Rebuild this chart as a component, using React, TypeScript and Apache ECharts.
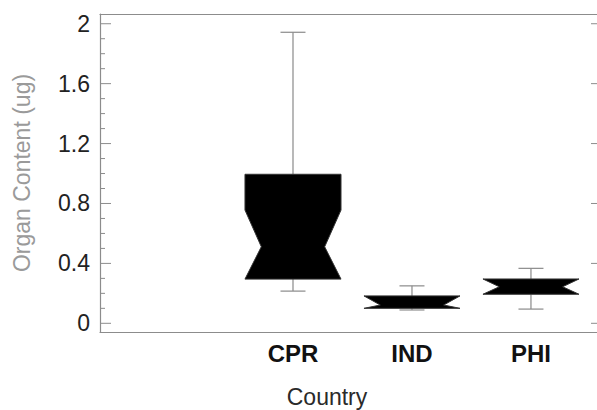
import React, { useEffect, useRef } from "react";
import * as echarts from "echarts";

// Notched box plot of organ content by country
const countries = ["CPR", "IND", "PHI"];
const whiskerLow = [0.215, 0.089, 0.095];
const quartile1 = [0.295, 0.1, 0.194];
const medians = [0.511, 0.122, 0.244];
const quartile3 = [0.995, 0.183, 0.296];
const whiskerHigh = [1.943, 0.25, 0.367];
const notchLow = [0.295, 0.1, 0.194];
const notchHigh = [0.756, 0.183, 0.296];

const majorTicks = [0, 0.4, 0.8, 1.2, 1.6, 2];
const tenthTicks = [
  0, 0.1, 0.2, 0.3, 0.4, 0.5, 0.6, 0.7, 0.8, 0.9, 1.0,
  1.1, 1.2, 1.3, 1.4, 1.5, 1.6, 1.7, 1.8, 1.9, 2,
];

const FONT = 'Arial, "Liberation Sans", sans-serif';
const GRAY = "#8c8c8c";

export default function App() {
  const ref = useRef<HTMLDivElement>(null);

  useEffect(() => {
    if (!ref.current) return;
    const chart = echarts.init(ref.current, undefined, { renderer: "svg" });

    const rows = countries.map((_, i) => [
      i + 1,
      whiskerLow[i],
      quartile1[i],
      medians[i],
      quartile3[i],
      whiskerHigh[i],
      notchLow[i],
      notchHigh[i],
    ]);

    const renderBox = (params: any, api: any) => {
      const x = api.value(0);
      const lo = api.coord([x, api.value(1)]);
      const q1 = api.coord([x, api.value(2)]);
      const med = api.coord([x, api.value(3)]);
      const q3 = api.coord([x, api.value(4)]);
      const hi = api.coord([x, api.value(5)]);
      const nlo = api.coord([x, api.value(6)]);
      const nhi = api.coord([x, api.value(7)]);
      const half = api.size([0.807, 0])[0] / 2;
      const capHalf = api.size([0.21, 0])[0] / 2;
      const indent = half * 0.34;
      const cx = med[0];
      const xl = cx - half;
      const xr = cx + half;
      const lineStyle = { stroke: "#8a8a8a", lineWidth: 1.2 };
      return {
        type: "group",
        children: [
          { type: "line", shape: { x1: cx, y1: q3[1], x2: cx, y2: hi[1] }, style: lineStyle },
          { type: "line", shape: { x1: cx - capHalf, y1: hi[1], x2: cx + capHalf, y2: hi[1] }, style: lineStyle },
          { type: "line", shape: { x1: cx, y1: q1[1], x2: cx, y2: lo[1] }, style: lineStyle },
          { type: "line", shape: { x1: cx - capHalf, y1: lo[1], x2: cx + capHalf, y2: lo[1] }, style: lineStyle },
          {
            type: "polygon",
            shape: {
              points: [
                [xl, q3[1]],
                [xr, q3[1]],
                [xr, nhi[1]],
                [xr - indent, med[1]],
                [xr, nlo[1]],
                [xr, q1[1]],
                [xl, q1[1]],
                [xl, nlo[1]],
                [xl + indent, med[1]],
                [xl, nhi[1]],
              ],
            },
            style: { fill: "#000", stroke: "#333", lineWidth: 1 },
          },
        ],
      };
    };

    // Frame ticks: long at the labelled steps, short every 0.1 on the left;
    // the right frame carries only the long ones.
    const renderTick = (params: any, api: any) => {
      const v = api.value(0);
      const cs = params.coordSys;
      const y = api.coord([0, v])[1];
      const major = majorTicks.includes(v);
      const len = major ? 11 : 5;
      const style = { stroke: GRAY, lineWidth: 1 };
      const children: any[] = [
        { type: "line", shape: { x1: cs.x, y1: y, x2: cs.x + len, y2: y }, style },
      ];
      if (major) {
        const right = cs.x + cs.width;
        children.push({ type: "line", shape: { x1: right - len, y1: y, x2: right, y2: y }, style });
      }
      return { type: "group", children };
    };

    const xRange = { min: -0.622, max: 3.597 };
    const yRange = { min: -0.058, max: 2.065 };
    const frameLine = { show: true, onZero: false, lineStyle: { color: GRAY, width: 1.2 } };

    chart.setOption({
      animation: false,
      backgroundColor: "#fff",
      grid: {
        left: 100,
        top: 14,
        width: 502,
        height: 318,
        outerBoundsMode: "none",
      },
      xAxis: [
        {
          type: "value",
          ...xRange,
          position: "bottom",
          splitLine: { show: false },
          axisLine: frameLine,
          axisTick: { show: false },
          axisLabel: {
            customValues: [1, 2, 3],
            formatter: (v: number) => countries[Math.round(v) - 1] ?? "",
            margin: 9,
            fontFamily: FONT,
            fontSize: 24,
            fontWeight: "bold",
            color: "#111",
          },
        },
        {
          type: "value",
          ...xRange,
          position: "top",
          splitLine: { show: false },
          axisLine: frameLine,
          axisTick: { show: false },
          axisLabel: { show: false },
        },
      ],
      yAxis: [
        {
          type: "value",
          ...yRange,
          position: "left",
          splitLine: { show: false },
          axisLine: frameLine,
          axisTick: { show: false },
          axisLabel: {
            customValues: majorTicks,
            formatter: (v: number) => String(+v.toFixed(1)),
            margin: 10,
            fontFamily: FONT,
            fontSize: 23,
            color: "#222",
          },
          name: "Organ Content (ug)",
          nameLocation: "middle",
          nameGap: 67,
          nameTextStyle: { fontFamily: FONT, fontSize: 23, color: "#9a9a9a" },
        },
        {
          type: "value",
          ...yRange,
          position: "right",
          splitLine: { show: false },
          axisLine: frameLine,
          axisTick: { show: false },
          axisLabel: { show: false },
        },
      ],
      graphic: [
        {
          type: "text",
          x: 327,
          y: 397,
          style: {
            text: "Country",
            fontFamily: FONT,
            fontSize: 23,
            fill: "#2a2a2a",
            align: "center",
            verticalAlign: "middle",
          },
        },
      ],
      series: [
        {
          type: "custom",
          coordinateSystem: "cartesian2d",
          xAxisIndex: 0,
          yAxisIndex: 0,
          encode: { y: 0 },
          renderItem: renderTick,
          data: tenthTicks.map((v) => [v]),
          silent: true,
        },
        {
          type: "custom",
          coordinateSystem: "cartesian2d",
          xAxisIndex: 0,
          yAxisIndex: 0,
          encode: { x: 0, y: [1, 2, 3, 4, 5] },
          renderItem: renderBox,
          data: rows,
        },
      ],
    });

    return () => chart.dispose();
  }, []);

  return (
    <div
      ref={ref}
      style={{ position: "fixed", left: 0, top: 0, width: 597, height: 410, background: "#fff" }}
    />
  );
}
